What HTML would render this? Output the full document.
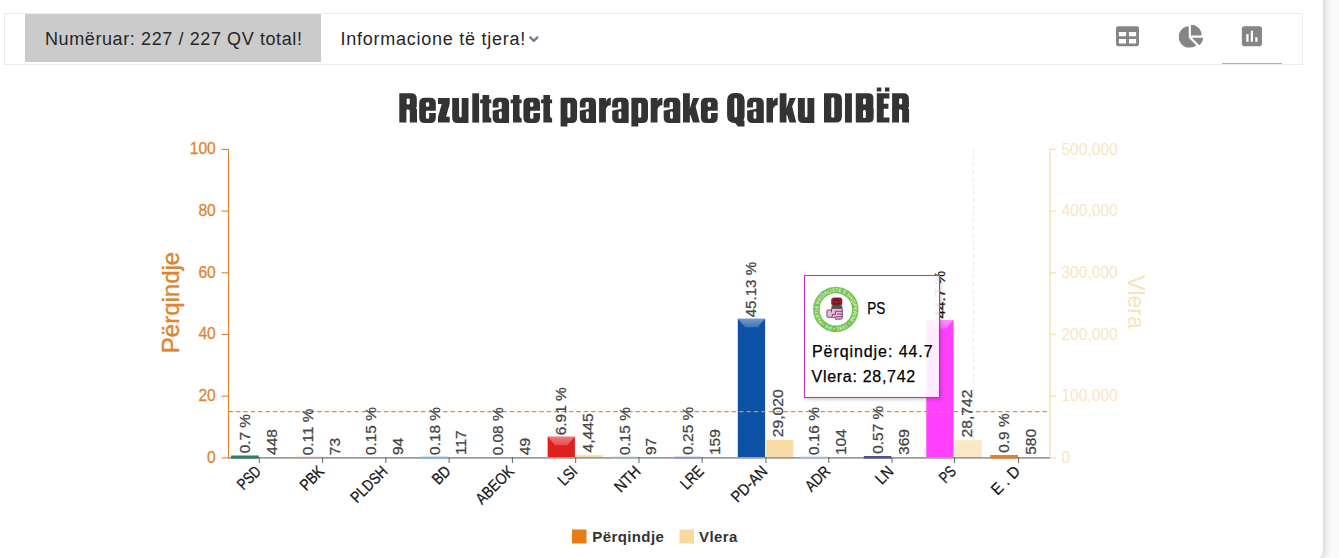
<!DOCTYPE html>
<html><head><meta charset="utf-8"><title>Rezultatet</title>
<style>
html,body{margin:0;padding:0;}
body{width:1339px;height:558px;overflow:hidden;background:#fafafa;font-family:"Liberation Sans",sans-serif;position:relative;}
.card{position:absolute;left:-20px;top:-20px;width:1343px;height:582px;background:#fff;border-radius:0 0 12px 0;box-shadow:0 0 9px 1px rgba(0,0,0,0.2);}
.hdr{position:absolute;left:4px;top:13px;width:1299px;height:52px;border:1px solid #ebebeb;box-sizing:border-box;background:#fff;}
.cnt{position:absolute;left:25px;top:14px;width:296px;height:48px;background:#cbcbcb;}
.t1{position:absolute;left:45.0px;top:27.5px;font-size:18px;line-height:22px;color:#262626;letter-spacing:0.6px;white-space:nowrap;}
.t2{position:absolute;left:340.4px;top:27.5px;font-size:18px;line-height:22px;color:#262626;letter-spacing:0.75px;white-space:nowrap;}
.ul{position:absolute;left:1222px;top:62.6px;width:60px;height:1.5px;background:#e9a53a;}
svg{position:absolute;left:0;top:0;}
</style></head><body>
<div class="card"></div>
<div class="hdr"></div>
<div class="cnt"></div>
<div class="t1">Numëruar: 227 / 227 QV total!</div>
<div class="t2">Informacione të tjera!</div>
<div class="ul"></div>
<svg width="1339" height="558" viewBox="0 0 1339 558">
<!-- chevron -->
<path d="M530.3 37.3L533.8 40.8L537.3 37.3" stroke="#76838f" stroke-width="2.4" fill="none" stroke-linecap="round" stroke-linejoin="round"/>
<!-- icons -->
<g fill="#858585">
<svg x="1116" y="24.7" width="23" height="23" viewBox="0 0 512 512"><path d="M464 32H48C21.49 32 0 53.49 0 80v352c0 26.51 21.49 48 48 48h416c26.51 0 48-21.49 48-48V80c0-26.51-21.49-48-48-48zM224 416H64v-96h160v96zm0-160H64v-96h160v96zm224 160H288v-96h160v96zm0-160H288v-96h160v96z"/></svg>
<svg x="1178.7" y="24.8" width="24.44" height="23" viewBox="0 0 544 512"><path d="M527.79 288H290.5l158.03 158.03c6.04 6.04 15.98 6.53 22.19.68 38.7-36.46 65.32-85.61 73.13-140.86 1.34-9.46-6.51-17.85-16.06-17.85zm-15.83-64.8C503.72 103.74 408.26 8.28 288.8.04 279.68-.59 272 7.1 272 16.24V240h223.77c9.14 0 16.82-7.68 16.19-16.8zM224 288V50.71c0-9.55-8.39-17.4-17.84-16.06C86.99 51.49-4.1 155.6.14 280.37 4.5 408.51 114.83 513.59 243.03 511.98c50.4-.63 96.97-16.87 135.26-44.03 7.9-5.6 8.42-17.23 1.57-24.08L224 288z"/></svg>
<svg x="1238.5" y="22.85" width="26.8" height="26.8" viewBox="0 0 24 24"><path d="M19 3H5c-1.1 0-2 .9-2 2v14c0 1.1.9 2 2 2h14c1.1 0 2-.9 2-2V5c0-1.1-.9-2-2-2zM9 17H7v-7h2v7zm4 0h-2V7h2v10zm4 0h-2v-4h2v4z"/></svg>
</g>
<!-- title -->
<g transform="translate(399.3,122.6) scale(1.006,1)"><path fill="#333" d="M0.00 -29.30H11.90Q17.40 -29.30 17.40 -23.80V-15.50Q17.40 -13.00 14.90 -13.00H0.00V-29.30ZM0.00 -29.30H7.30V0.00H0.00V-29.30ZM9.00 -16.50H14.60Q17.60 -16.50 17.60 -13.50V0.00H9.00V-16.50Z"/><path fill="#fff" d="M8.50 -24.20H9.20Q10.40 -24.20 10.40 -23.00V-19.40Q10.40 -18.20 9.20 -18.20H8.50Q7.30 -18.20 7.30 -19.40V-23.00Q7.30 -24.20 8.50 -24.20ZM8.50 -12.80H9.20Q10.40 -12.80 10.40 -11.60V1.00H7.30V-11.60Q7.30 -12.80 8.50 -12.80ZM18.20 -16.80L16.60 -14.70L18.20 -12.60Z"/></g>
<g transform="translate(419.2,122.6) scale(1.000,1)"><path fill="#333" d="M5.50 -24.80H11.10Q16.60 -24.80 16.60 -19.30V-5.20Q16.60 0.30 11.10 0.30H5.50Q0.00 0.30 0.00 -5.20V-19.30Q0.00 -24.80 5.50 -24.80Z"/><path fill="#fff" d="M7.90 -20.30H8.80Q10.00 -20.30 10.00 -19.10V-17.00Q10.00 -15.80 8.80 -15.80H7.90Q6.70 -15.80 6.70 -17.00V-19.10Q6.70 -20.30 7.90 -20.30ZM7.90 -11.90H8.80Q10.00 -11.90 10.00 -10.70V-5.00Q10.00 -3.80 8.80 -3.80H7.90Q6.70 -3.80 6.70 -5.00V-10.70Q6.70 -11.90 7.90 -11.90ZM9.00 -11.90H17.20V-9.60H9.00V-11.90Z"/></g>
<g transform="translate(438.0,122.6) scale(1.000,1)"><path fill="#333" d="M0.00 -24.50H11.70V-18.60H0.00V-24.50ZM0.00 -5.80H11.70V0.00H0.00V-5.80ZM3.70 -18.70L11.70 -18.70L8.00 -5.70L0.00 -5.70Z"/></g>
<g transform="translate(452.2,122.6) scale(1.000,1)"><path fill="#333" d="M0.00 -24.50H16.30V0.30H5.50Q0.00 0.30 0.00 -5.20V-24.50Z"/><path fill="#fff" d="M6.90 -25.50H9.50V-6.50Q9.50 -5.20 8.20 -5.20H8.20Q6.90 -5.20 6.90 -6.50V-25.50Z"/></g>
<g transform="translate(472.3,122.6) scale(1.000,1)"><path fill="#333" d="M0.00 -29.30H6.80V0.00H0.00V-29.30Z"/></g>
<g transform="translate(480.1,122.6) scale(1.009,1)"><path fill="#333" d="M2.40 -27.60H9.00V0.00H2.40V-27.60ZM0.00 -23.20H11.10V-19.40H0.00V-23.20ZM8.9 -7.5Q9 -4.4 11.1 -4.4V0H8.9Z"/></g>
<g transform="translate(492.7,122.6) scale(0.988,1)"><path fill="#333" d="M5.50 -24.80H11.10Q16.60 -24.80 16.60 -19.30V0.30H5.50Q0.00 0.30 0.00 -5.20V-19.30Q0.00 -24.80 5.50 -24.80Z"/><path fill="#fff" d="M7.10 -20.70H8.00Q9.20 -20.70 9.20 -19.50V-13.90H5.90V-19.50Q5.90 -20.70 7.10 -20.70ZM-0.50 -15.20L9.20 -15.20L9.20 -13.90L-0.50 -11.80ZM7.60 -11.00H8.00Q9.20 -11.00 9.20 -9.80V-5.00Q9.20 -3.80 8.00 -3.80H7.60Q6.40 -3.80 6.40 -5.00V-9.80Q6.40 -11.00 7.60 -11.00Z"/></g>
<g transform="translate(510.6,122.6) scale(0.991,1)"><path fill="#333" d="M2.40 -27.60H9.00V0.00H2.40V-27.60ZM0.00 -23.20H11.10V-19.40H0.00V-23.20ZM8.9 -7.5Q9 -4.4 11.1 -4.4V0H8.9Z"/></g>
<g transform="translate(523.4,122.6) scale(1.000,1)"><path fill="#333" d="M5.50 -24.80H11.10Q16.60 -24.80 16.60 -19.30V-5.20Q16.60 0.30 11.10 0.30H5.50Q0.00 0.30 0.00 -5.20V-19.30Q0.00 -24.80 5.50 -24.80Z"/><path fill="#fff" d="M7.90 -20.30H8.80Q10.00 -20.30 10.00 -19.10V-17.00Q10.00 -15.80 8.80 -15.80H7.90Q6.70 -15.80 6.70 -17.00V-19.10Q6.70 -20.30 7.90 -20.30ZM7.90 -11.90H8.80Q10.00 -11.90 10.00 -10.70V-5.00Q10.00 -3.80 8.80 -3.80H7.90Q6.70 -3.80 6.70 -5.00V-10.70Q6.70 -11.90 7.90 -11.90ZM9.00 -11.90H17.20V-9.60H9.00V-11.90Z"/></g>
<g transform="translate(541.0,122.6) scale(1.000,1)"><path fill="#333" d="M2.40 -27.60H9.00V0.00H2.40V-27.60ZM0.00 -23.20H11.10V-19.40H0.00V-23.20ZM8.9 -7.5Q9 -4.4 11.1 -4.4V0H8.9Z"/></g>
<g transform="translate(560.6,122.6) scale(1.000,1)"><path fill="#333" d="M0.00 -24.50H6.80V3.90H0.00V-24.50ZM0.00 -24.80H11.00Q16.50 -24.80 16.50 -19.30V-5.20Q16.50 0.30 11.00 0.30H0.00V-24.80Z"/><path fill="#fff" d="M8.10 -19.60H8.50Q9.80 -19.60 9.80 -18.30V-6.10Q9.80 -4.80 8.50 -4.80H8.10Q6.80 -4.80 6.80 -6.10V-18.30Q6.80 -19.60 8.10 -19.60Z"/></g>
<g transform="translate(579.8,122.6) scale(0.976,1)"><path fill="#333" d="M5.50 -24.80H11.10Q16.60 -24.80 16.60 -19.30V0.30H5.50Q0.00 0.30 0.00 -5.20V-19.30Q0.00 -24.80 5.50 -24.80Z"/><path fill="#fff" d="M7.10 -20.70H8.00Q9.20 -20.70 9.20 -19.50V-13.90H5.90V-19.50Q5.90 -20.70 7.10 -20.70ZM-0.50 -15.20L9.20 -15.20L9.20 -13.90L-0.50 -11.80ZM7.60 -11.00H8.00Q9.20 -11.00 9.20 -9.80V-5.00Q9.20 -3.80 8.00 -3.80H7.60Q6.40 -3.80 6.40 -5.00V-9.80Q6.40 -11.00 7.60 -11.00Z"/></g>
<g transform="translate(599.1,122.6) scale(1.000,1)"><path fill="#333" d="M0.00 -24.50H6.80V0.00H0.00V-24.50ZM6.8 -21.00Q8 -24.90 11.7 -24.90V-17.4Q8.2 -17.8 6.8 -13.5Z"/></g>
<g transform="translate(612.2,122.6) scale(0.994,1)"><path fill="#333" d="M5.50 -24.80H11.10Q16.60 -24.80 16.60 -19.30V0.30H5.50Q0.00 0.30 0.00 -5.20V-19.30Q0.00 -24.80 5.50 -24.80Z"/><path fill="#fff" d="M7.10 -20.70H8.00Q9.20 -20.70 9.20 -19.50V-13.90H5.90V-19.50Q5.90 -20.70 7.10 -20.70ZM-0.50 -15.20L9.20 -15.20L9.20 -13.90L-0.50 -11.80ZM7.60 -11.00H8.00Q9.20 -11.00 9.20 -9.80V-5.00Q9.20 -3.80 8.00 -3.80H7.60Q6.40 -3.80 6.40 -5.00V-9.80Q6.40 -11.00 7.60 -11.00Z"/></g>
<g transform="translate(631.4,122.6) scale(1.006,1)"><path fill="#333" d="M0.00 -24.50H6.80V3.90H0.00V-24.50ZM0.00 -24.80H11.00Q16.50 -24.80 16.50 -19.30V-5.20Q16.50 0.30 11.00 0.30H0.00V-24.80Z"/><path fill="#fff" d="M8.10 -19.60H8.50Q9.80 -19.60 9.80 -18.30V-6.10Q9.80 -4.80 8.50 -4.80H8.10Q6.80 -4.80 6.80 -6.10V-18.30Q6.80 -19.60 8.10 -19.60Z"/></g>
<g transform="translate(650.7,122.6) scale(1.000,1)"><path fill="#333" d="M0.00 -24.50H6.80V0.00H0.00V-24.50ZM6.8 -21.00Q8 -24.90 11.7 -24.90V-17.4Q8.2 -17.8 6.8 -13.5Z"/></g>
<g transform="translate(663.7,122.6) scale(1.000,1)"><path fill="#333" d="M5.50 -24.80H11.10Q16.60 -24.80 16.60 -19.30V0.30H5.50Q0.00 0.30 0.00 -5.20V-19.30Q0.00 -24.80 5.50 -24.80Z"/><path fill="#fff" d="M7.10 -20.70H8.00Q9.20 -20.70 9.20 -19.50V-13.90H5.90V-19.50Q5.90 -20.70 7.10 -20.70ZM-0.50 -15.20L9.20 -15.20L9.20 -13.90L-0.50 -11.80ZM7.60 -11.00H8.00Q9.20 -11.00 9.20 -9.80V-5.00Q9.20 -3.80 8.00 -3.80H7.60Q6.40 -3.80 6.40 -5.00V-9.80Q6.40 -11.00 7.60 -11.00Z"/></g>
<g transform="translate(683.0,122.6) scale(1.006,1)"><path fill="#333" d="M0.00 -29.30H6.80V0.00H0.00V-29.30ZM6.80 -14.00L10.00 -24.50L16.20 -24.50L11.40 -13.50L6.80 -7.00ZM7.80 -14.50L12.30 -17.00L16.60 0.00L9.90 0.00L6.80 -9.50Z"/></g>
<g transform="translate(700.9,122.6) scale(1.012,1)"><path fill="#333" d="M5.50 -24.80H11.10Q16.60 -24.80 16.60 -19.30V-5.20Q16.60 0.30 11.10 0.30H5.50Q0.00 0.30 0.00 -5.20V-19.30Q0.00 -24.80 5.50 -24.80Z"/><path fill="#fff" d="M7.90 -20.30H8.80Q10.00 -20.30 10.00 -19.10V-17.00Q10.00 -15.80 8.80 -15.80H7.90Q6.70 -15.80 6.70 -17.00V-19.10Q6.70 -20.30 7.90 -20.30ZM7.90 -11.90H8.80Q10.00 -11.90 10.00 -10.70V-5.00Q10.00 -3.80 8.80 -3.80H7.90Q6.70 -3.80 6.70 -5.00V-10.70Q6.70 -11.90 7.90 -11.90ZM9.00 -11.90H17.20V-9.60H9.00V-11.90Z"/></g>
<g transform="translate(727.1,122.6) scale(1.000,1)"><path fill="#333" d="M7.50 -29.70H10.00Q17.50 -29.70 17.50 -22.20V-7.10Q17.50 0.40 10.00 0.40H7.50Q0.00 0.40 0.00 -7.10V-22.20Q0.00 -29.70 7.50 -29.70ZM7.60 -3.00L13.00 -4.50L17.40 -1.50L17.40 3.90L10.80 3.90L7.60 0.00Z"/><path fill="#fff" d="M8.50 -24.50H8.70Q10.00 -24.50 10.00 -23.20V-6.50Q10.00 -5.20 8.70 -5.20H8.50Q7.20 -5.20 7.20 -6.50V-23.20Q7.20 -24.50 8.50 -24.50Z"/></g>
<g transform="translate(747.1,122.6) scale(1.006,1)"><path fill="#333" d="M5.50 -24.80H11.10Q16.60 -24.80 16.60 -19.30V0.30H5.50Q0.00 0.30 0.00 -5.20V-19.30Q0.00 -24.80 5.50 -24.80Z"/><path fill="#fff" d="M7.10 -20.70H8.00Q9.20 -20.70 9.20 -19.50V-13.90H5.90V-19.50Q5.90 -20.70 7.10 -20.70ZM-0.50 -15.20L9.20 -15.20L9.20 -13.90L-0.50 -11.80ZM7.60 -11.00H8.00Q9.20 -11.00 9.20 -9.80V-5.00Q9.20 -3.80 8.00 -3.80H7.60Q6.40 -3.80 6.40 -5.00V-9.80Q6.40 -11.00 7.60 -11.00Z"/></g>
<g transform="translate(766.5,122.6) scale(0.957,1)"><path fill="#333" d="M0.00 -24.50H6.80V0.00H0.00V-24.50ZM6.8 -21.00Q8 -24.90 11.7 -24.90V-17.4Q8.2 -17.8 6.8 -13.5Z"/></g>
<g transform="translate(779.7,122.6) scale(0.994,1)"><path fill="#333" d="M0.00 -29.30H6.80V0.00H0.00V-29.30ZM6.80 -14.00L10.00 -24.50L16.20 -24.50L11.40 -13.50L6.80 -7.00ZM7.80 -14.50L12.30 -17.00L16.60 0.00L9.90 0.00L6.80 -9.50Z"/></g>
<g transform="translate(797.9,122.6) scale(1.006,1)"><path fill="#333" d="M0.00 -24.50H16.30V0.30H5.50Q0.00 0.30 0.00 -5.20V-24.50Z"/><path fill="#fff" d="M6.90 -25.50H9.50V-6.50Q9.50 -5.20 8.20 -5.20H8.20Q6.90 -5.20 6.90 -6.50V-25.50Z"/></g>
<g transform="translate(824.0,122.6) scale(1.000,1)"><path fill="#333" d="M0.00 -29.30H11.90Q17.90 -29.30 17.90 -23.30V-6.00Q17.90 0.00 11.90 0.00H0.00V-29.30Z"/><path fill="#fff" d="M8.50 -25.10H9.10Q10.30 -25.10 10.30 -23.90V-6.20Q10.30 -5.00 9.10 -5.00H8.50Q7.30 -5.00 7.30 -6.20V-23.90Q7.30 -25.10 8.50 -25.10Z"/></g>
<g transform="translate(845.0,122.6) scale(1.000,1)"><path fill="#333" d="M0.00 -29.30H6.90V0.00H0.00V-29.30Z"/></g>
<g transform="translate(855.8,122.6) scale(1.000,1)"><path fill="#333" d="M0.00 -29.30H12.60Q17.60 -29.30 17.60 -24.30V-16.80Q17.60 -14.30 15.10 -14.30H0.00V-29.30ZM0.00 -16.00H15.40Q17.90 -16.00 17.90 -13.50V-5.00Q17.90 0.00 12.90 0.00H0.00V-16.00Z"/><path fill="#fff" d="M8.50 -24.20H8.80Q10.00 -24.20 10.00 -23.00V-19.20Q10.00 -18.00 8.80 -18.00H8.50Q7.30 -18.00 7.30 -19.20V-23.00Q7.30 -24.20 8.50 -24.20ZM8.50 -12.60H8.80Q10.00 -12.60 10.00 -11.40V-5.70Q10.00 -4.50 8.80 -4.50H8.50Q7.30 -4.50 7.30 -5.70V-11.40Q7.30 -12.60 8.50 -12.60Z"/></g>
<g transform="translate(876.8,122.6) scale(1.000,1)"><path fill="#333" d="M0.00 -29.30H6.90V0.00H0.00V-29.30ZM0.00 -29.30H12.60V-24.20H0.00V-29.30ZM0.00 -18.90H11.60V-13.90H0.00V-18.90ZM0.00 -5.00H12.60V0.00H0.00V-5.00ZM0.00 -35.00H4.50V-31.10H0.00V-35.00ZM8.10 -35.00H12.60V-31.10H8.10V-35.00Z"/></g>
<g transform="translate(892.1,122.6) scale(0.966,1)"><path fill="#333" d="M0.00 -29.30H11.90Q17.40 -29.30 17.40 -23.80V-15.50Q17.40 -13.00 14.90 -13.00H0.00V-29.30ZM0.00 -29.30H7.30V0.00H0.00V-29.30ZM9.00 -16.50H14.60Q17.60 -16.50 17.60 -13.50V0.00H9.00V-16.50Z"/><path fill="#fff" d="M8.50 -24.20H9.20Q10.40 -24.20 10.40 -23.00V-19.40Q10.40 -18.20 9.20 -18.20H8.50Q7.30 -18.20 7.30 -19.40V-23.00Q7.30 -24.20 8.50 -24.20ZM8.50 -12.80H9.20Q10.40 -12.80 10.40 -11.60V1.00H7.30V-11.60Q7.30 -12.80 8.50 -12.80ZM18.20 -16.80L16.60 -14.70L18.20 -12.60Z"/></g>
<defs><linearGradient id="bev" x1="0" y1="0" x2="0" y2="1"><stop offset="0" stop-color="#fff" stop-opacity="0.42"/><stop offset="1" stop-color="#fff" stop-opacity="0.2"/></linearGradient></defs>
<g font-family="Liberation Sans, sans-serif" font-size="16" fill="#de862f" stroke="#de862f" stroke-width="0.3" text-anchor="end">
<text transform="translate(215.8,462.6) scale(0.975,1)">0</text>
<text transform="translate(215.8,400.9) scale(0.975,1)">20</text>
<text transform="translate(215.8,339.2) scale(0.975,1)">40</text>
<text transform="translate(215.8,277.5) scale(0.975,1)">60</text>
<text transform="translate(215.8,215.8) scale(0.975,1)">80</text>
<text transform="translate(215.8,154.1) scale(0.975,1)">100</text>
</g>
<g stroke="#db832c" stroke-width="1.1" fill="none">
<path d="M228.5 148.9V458.4"/>
<path d="M221.5 457.9H228.5"/>
<path d="M221.5 396.2H228.5"/>
<path d="M221.5 334.5H228.5"/>
<path d="M221.5 272.79999999999995H228.5"/>
<path d="M221.5 211.09999999999997H228.5"/>
<path d="M221.5 149.39999999999998H228.5"/>
</g>
<g font-family="Liberation Sans, sans-serif" font-size="16" fill="#fbe5c2" text-anchor="start">
<text transform="translate(1061.4,463.1) scale(0.975,1)">0</text>
<text transform="translate(1061.4,401.4) scale(0.975,1)">100,000</text>
<text transform="translate(1061.4,339.7) scale(0.975,1)">200,000</text>
<text transform="translate(1061.4,278.0) scale(0.975,1)">300,000</text>
<text transform="translate(1061.4,216.3) scale(0.975,1)">400,000</text>
<text transform="translate(1061.4,154.6) scale(0.975,1)">500,000</text>
</g>
<g stroke="#f9deb0" stroke-width="1.3" fill="none">
<path d="M1050.0 148.9V458.4"/>
<path d="M1050.0 457.9H1056"/>
<path d="M1050.0 396.2H1056"/>
<path d="M1050.0 334.5H1056"/>
<path d="M1050.0 272.79999999999995H1056"/>
<path d="M1050.0 211.09999999999997H1056"/>
<path d="M1050.0 149.39999999999998H1056"/>
</g>
<text transform="translate(179,302.5) rotate(-90)" text-anchor="middle" font-family="Liberation Sans, sans-serif" font-size="24" fill="#de862f" stroke="#de862f" stroke-width="0.4">Përqindje</text>
<text transform="translate(1128.4,275.2) rotate(90)" textLength="53.4" lengthAdjust="spacingAndGlyphs" font-family="Liberation Sans, sans-serif" font-size="24" fill="#fae2ba">Vlera</text>
<path d="M973.5 149V457" stroke="#ececec" stroke-width="1" stroke-dasharray="4 3" fill="none"/>
<rect x="231.2" y="455.7" width="27.3" height="2.2" fill="#2f7f5f"/>
<rect x="259.6" y="457.6" width="27.1" height="0.3" fill="#f9dca6"/>
<rect x="294.5" y="457.6" width="27.3" height="0.3" fill="#c9a0a8"/>
<rect x="322.9" y="457.9" width="27.1" height="0.0" fill="#f9dca6"/>
<rect x="357.8" y="457.4" width="27.3" height="0.5" fill="#b0b0b0"/>
<rect x="386.2" y="457.8" width="27.1" height="0.1" fill="#f9dca6"/>
<rect x="421.0" y="457.3" width="27.3" height="0.6" fill="#7db8d6"/>
<rect x="449.4" y="457.8" width="27.1" height="0.1" fill="#f9dca6"/>
<rect x="484.3" y="457.7" width="27.3" height="0.2" fill="#a8a8a8"/>
<rect x="512.7" y="457.9" width="27.1" height="0.0" fill="#f9dca6"/>
<rect x="547.6" y="436.6" width="27.3" height="21.3" fill="#e21f1f"/>
<path d="M547.6 436.6H574.9L567.4 445.2H555.1Z" fill="url(#bev)"/>
<rect x="576.0" y="455.2" width="27.1" height="2.7" fill="#f9dca6"/>
<rect x="610.9" y="457.4" width="27.3" height="0.5" fill="#9fc0b8"/>
<rect x="639.3" y="457.8" width="27.1" height="0.1" fill="#f9dca6"/>
<rect x="674.1" y="457.1" width="27.3" height="0.8" fill="#8f92c4"/>
<rect x="702.5" y="457.8" width="27.1" height="0.1" fill="#f9dca6"/>
<rect x="737.8" y="318.7" width="27.3" height="139.2" fill="#0d52a5"/>
<path d="M737.8 318.7H765.1L757.6 327.3H745.3Z" fill="url(#bev)"/>
<rect x="766.2" y="440.0" width="27.1" height="17.9" fill="#f9dca6"/>
<rect x="800.7" y="457.4" width="27.3" height="0.5" fill="#a9c6e2"/>
<rect x="829.1" y="457.8" width="27.1" height="0.1" fill="#f9dca6"/>
<rect x="863.9" y="456.1" width="27.3" height="1.8" fill="#4b4f8f"/>
<rect x="892.3" y="457.7" width="27.1" height="0.2" fill="#f9dca6"/>
<rect x="926.3" y="320.0" width="27.3" height="137.9" fill="#ff40ff"/>
<path d="M926.3 320.0H953.6L946.1 328.6H933.8Z" fill="url(#bev)"/>
<rect x="954.7" y="440.2" width="27.1" height="17.7" fill="#fae7c6"/>
<rect x="990.5" y="455.1" width="27.3" height="2.8" fill="#e07f2e"/>
<rect x="1018.9" y="457.5" width="27.1" height="0.4" fill="#f9dca6"/>
<path d="M228.5 457.8H1050.0" stroke="#9c9c9c" stroke-width="1.7" fill="none"/>
<rect x="231.2" y="455.7" width="27.3" height="2.9" fill="#2f7f5f" fill-opacity="1"/>
<rect x="294.5" y="456.6" width="27.3" height="2.0" fill="#c9a0a8" fill-opacity="0.45"/>
<rect x="357.8" y="456.6" width="27.3" height="2.0" fill="#b0b0b0" fill-opacity="0.0"/>
<rect x="421.0" y="456.6" width="27.3" height="2.0" fill="#7db8d6" fill-opacity="0.85"/>
<rect x="484.3" y="456.6" width="27.3" height="2.0" fill="#a8a8a8" fill-opacity="0.0"/>
<rect x="610.9" y="456.6" width="27.3" height="2.0" fill="#9fc0b8" fill-opacity="0.6"/>
<rect x="674.1" y="456.6" width="27.3" height="2.0" fill="#8f92c4" fill-opacity="0.7"/>
<rect x="800.7" y="456.6" width="27.3" height="2.0" fill="#a9c6e2" fill-opacity="0.8"/>
<rect x="863.9" y="456.1" width="27.3" height="2.5" fill="#4b4f8f" fill-opacity="0.95"/>
<rect x="990.5" y="455.1" width="27.3" height="3.5" fill="#e07f2e" fill-opacity="1"/>
<g stroke="#666" stroke-width="1" fill="none">
<path d="M259.3 457V463"/>
<path d="M322.6 457V463"/>
<path d="M385.9 457V463"/>
<path d="M449.1 457V463"/>
<path d="M512.4 457V463"/>
<path d="M575.7 457V463"/>
<path d="M639.0 457V463"/>
<path d="M702.2 457V463"/>
<path d="M765.9 457V463"/>
<path d="M828.8 457V463"/>
<path d="M892.0 457V463"/>
<path d="M954.4 457V463"/>
<path d="M1018.6 457V463"/>
</g>
<path d="M228.5 411.6H1049.5" stroke="#e8893a" stroke-width="1.3" stroke-dasharray="4.4 3" fill="none"/>
<g font-family="Liberation Sans, sans-serif" font-size="14.8" fill="#444" stroke="#444" stroke-width="0.25">
<text transform="translate(249.8,453.3) rotate(-90) scale(1.04,1)">0.7 %</text>
<text transform="translate(276.6,454.9) rotate(-90) scale(1.05,1)">448</text>
<text transform="translate(313.1,455.2) rotate(-90) scale(1.04,1)">0.11 %</text>
<text transform="translate(339.9,455.2) rotate(-90) scale(1.05,1)">73</text>
<text transform="translate(376.4,455.0) rotate(-90) scale(1.04,1)">0.15 %</text>
<text transform="translate(403.2,455.1) rotate(-90) scale(1.05,1)">94</text>
<text transform="translate(439.6,454.9) rotate(-90) scale(1.04,1)">0.18 %</text>
<text transform="translate(466.4,455.1) rotate(-90) scale(1.05,1)">117</text>
<text transform="translate(502.9,455.3) rotate(-90) scale(1.04,1)">0.08 %</text>
<text transform="translate(529.7,455.2) rotate(-90) scale(1.05,1)">49</text>
<text transform="translate(566.2,435.2) rotate(-90) scale(1.04,1)">6.91 %</text>
<text transform="translate(593.0,452.5) rotate(-90) scale(1.06,1)">4,445</text>
<text transform="translate(629.5,455.0) rotate(-90) scale(1.04,1)">0.15 %</text>
<text transform="translate(656.3,455.1) rotate(-90) scale(1.05,1)">97</text>
<text transform="translate(692.7,454.7) rotate(-90) scale(1.04,1)">0.25 %</text>
<text transform="translate(719.5,455.1) rotate(-90) scale(1.05,1)">159</text>
<text transform="translate(756.4,317.3) rotate(-90) scale(1.02,1)">45.13 %</text>
<text transform="translate(783.2,437.3) rotate(-90) scale(1.06,1)">29,020</text>
<text transform="translate(819.3,455.0) rotate(-90) scale(1.04,1)">0.16 %</text>
<text transform="translate(846.1,455.1) rotate(-90) scale(1.05,1)">104</text>
<text transform="translate(882.5,453.7) rotate(-90) scale(1.04,1)">0.57 %</text>
<text transform="translate(909.3,455.0) rotate(-90) scale(1.05,1)">369</text>
<text transform="translate(944.9,318.6) rotate(-90) scale(1.04,1)" fill="#111">44.7 %</text>
<text transform="translate(971.7,437.5) rotate(-90) scale(1.06,1)">28,742</text>
<text transform="translate(1009.1,452.7) rotate(-90) scale(1.04,1)">0.9 %</text>
<text transform="translate(1035.9,454.8) rotate(-90) scale(1.05,1)">580</text>
</g>
<g font-family="Liberation Sans, sans-serif" font-size="16" fill="#161616" stroke="#161616" stroke-width="0.25" text-anchor="end">
<text transform="translate(261.9,472.4) rotate(-45)" textLength="26.1" lengthAdjust="spacingAndGlyphs">PSD</text>
<text transform="translate(325.2,472.4) rotate(-45)" textLength="26.9" lengthAdjust="spacingAndGlyphs">PBK</text>
<text transform="translate(388.5,472.4) rotate(-45)" textLength="44.5" lengthAdjust="spacingAndGlyphs">PLDSH</text>
<text transform="translate(451.7,472.4) rotate(-45)" textLength="18.7" lengthAdjust="spacingAndGlyphs">BD</text>
<text transform="translate(515.0,472.4) rotate(-45)" textLength="46.5" lengthAdjust="spacingAndGlyphs">ABEOK</text>
<text transform="translate(578.3,472.4) rotate(-45)" textLength="20.0" lengthAdjust="spacingAndGlyphs">LSI</text>
<text transform="translate(641.6,472.4) rotate(-45)" textLength="29.6" lengthAdjust="spacingAndGlyphs">NTH</text>
<text transform="translate(704.8,472.4) rotate(-45)" textLength="25.7" lengthAdjust="spacingAndGlyphs">LRE</text>
<text transform="translate(768.5,472.4) rotate(-45)" textLength="43.8" lengthAdjust="spacingAndGlyphs">PD-AN</text>
<text transform="translate(831.4,472.4) rotate(-45)" textLength="28.3" lengthAdjust="spacingAndGlyphs">ADR</text>
<text transform="translate(894.6,472.4) rotate(-45)" textLength="18.1" lengthAdjust="spacingAndGlyphs">LN</text>
<text transform="translate(957.0,472.4) rotate(-45)" textLength="16.4" lengthAdjust="spacingAndGlyphs">PS</text>
<text transform="translate(1021.2,472.4) rotate(-45)" textLength="33.5" lengthAdjust="spacingAndGlyphs">E . D</text>
</g>
<rect x="572" y="529.5" width="14.5" height="14" fill="#e67c12"/>
<rect x="679.5" y="529.5" width="14.5" height="14" fill="#f9d99e"/>
<g font-family="Liberation Sans, sans-serif" font-size="15" font-weight="bold" fill="#333" letter-spacing="0.4">
<text x="592.3" y="541.6">Përqindje</text>
<text x="699" y="541.6">Vlera</text>
</g>
<g>
<defs><filter id="sh" x="-10%" y="-10%" width="125%" height="125%"><feGaussianBlur stdDeviation="1.5"/></filter><clipPath id="shc"><path clip-rule="evenodd" d="M780 250H980V420H780ZM804 275H940V398H804Z"/></clipPath></defs>
<g clip-path="url(#shc)"><rect x="806" y="278.5" width="135.5" height="121.5" fill="#000" fill-opacity="0.17" filter="url(#sh)"/></g>
<rect x="804.5" y="275.5" width="135" height="122" fill="#fff" fill-opacity="0.9" stroke="#c232c2" stroke-width="1.1"/>
<g transform="translate(835.8,309.4)">
<circle r="19.45" fill="#fff" stroke="#72c352" stroke-width="6.1"/>
<circle r="22.4" fill="none" stroke="#5fb43f" stroke-width="0.5" stroke-opacity="0.7"/>
<circle r="16.5" fill="none" stroke="#5fb43f" stroke-width="0.5" stroke-opacity="0.7"/>
<path id="ringp" d="M-12.55 12.55A17.75 17.75 0 1 1 12.55 12.55A17.75 17.75 0 0 1 -12.55 12.55" fill="none"/>
<text font-family="Liberation Sans, sans-serif" font-weight="bold" font-size="4.9" fill="#e6f6de" fill-opacity="0.9"><textPath href="#ringp" textLength="110" lengthAdjust="spacingAndGlyphs">PARTIA SOCIALISTE E SHQIPERISE • 1991 • PS •</textPath></text>
<rect x="-4.6" y="-11.9" width="11.1" height="8.4" rx="2.8" fill="#94202f"/>
<path d="M-2.6 -8.6q3 -2.6 6.5 0M-3 -6q3.2 2 7.6 -0.4M0.8 -11v3" stroke="#5d0e1a" stroke-width="0.9" fill="none"/>
<rect x="-4.3" y="-3.9" width="10.8" height="3.1" fill="#2f6b3d"/>
<path d="M-4.3 -0.9H6.5V8.4Q6.5 9.8 5 9.8H-0.5V7.9H-7.9Q-8.9 7.9 -8.9 6.9V1.6Q-8.9 0.6 -7.9 0.6H-4.3Z" fill="#efb6d6" stroke="#5e2c5c" stroke-width="0.8"/>
<path d="M-0.3 1.9H6.5M1.2 4.7H6.5M-0.3 7.4H6.5M-0.3 1.9V5.2H-3.6V7.4M-4.3 0.6V3" stroke="#5e2c5c" stroke-width="0.8" fill="none"/>
</g>
<g font-family="Liberation Sans, sans-serif" font-size="16" fill="#000" stroke="#000" stroke-width="0.25">
<text x="867.2" y="314.4" textLength="18.0" lengthAdjust="spacingAndGlyphs">PS</text>
<text x="812.0" y="356.5" textLength="120.6" lengthAdjust="spacing">Përqindje: 44.7</text>
<text x="811.6" y="382.3" textLength="103.6" lengthAdjust="spacing">Vlera: 28,742</text>
</g>
</g>
</svg>
</body></html>
